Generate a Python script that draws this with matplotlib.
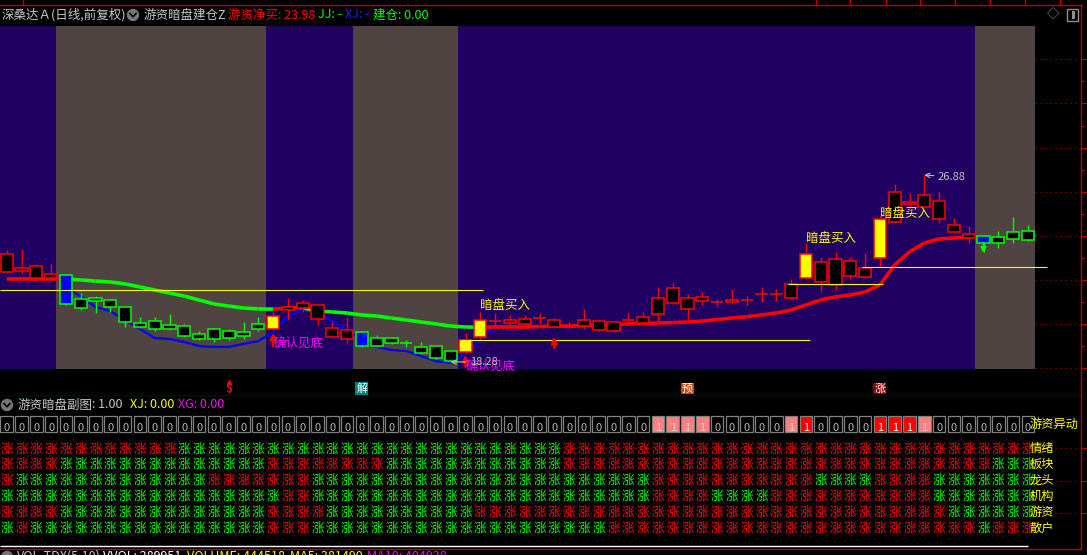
import numpy as np
import matplotlib
matplotlib.use("Agg")
import matplotlib.pyplot as plt
from matplotlib.collections import LineCollection
from matplotlib.patches import Rectangle, Ellipse
from matplotlib.lines import Line2D

plt.rcParams['font.family'] = ['Noto Sans CJK SC', 'DejaVu Sans']

W, H = 1087, 555
NAN = np.nan

# ------------------------------------------------------------------ data
opens = [22.42, 22.46, 22.14, 22.14, 22.28, 21.18, 21.22, 21.13, 20.81, 20.07,
         20.16, 19.98, 19.93, 19.57, 19.80, 19.70, 19.66, 20.03, 19.80, 20.67,
         20.76, 20.26, 19.43, 19.34, 19.66, 19.38, 19.38, 19.17, 18.97, 19.01,
         18.78, 18.74, 19.43, 20.15, 20.07, 20.03, 20.29, 19.89, 19.89, 19.93,
         19.75, 19.70, 20.20, 20.07, 20.49, 20.99, 20.72, 21.08, 21.03, 21.04,
         21.12, 21.40, 21.40, 21.22, 22.14, 21.96, 21.82, 22.23, 22.19, 23.06,
         24.72, 25.55, 25.41, 24.86, 24.26, 23.98, 24.07, 24.03, 24.26, 24.30]
highs = [23.43, 23.48, 22.79, 22.79, 22.33, 21.45, 21.31, 21.18, 20.85, 20.35,
         20.35, 20.49, 20.03, 19.70, 19.82, 19.80, 20.12, 20.35, 20.67, 21.22,
         21.13, 20.95, 20.12, 20.35, 19.70, 19.52, 19.43, 19.29, 19.20, 19.03,
         18.83, 19.61, 20.58, 20.53, 20.44, 20.44, 20.53, 20.30, 20.12, 20.71,
         20.21, 20.16, 20.53, 20.58, 21.73, 21.91, 21.41, 21.50, 21.18, 21.64,
         21.31, 21.73, 21.64, 22.09, 23.75, 23.11, 23.34, 23.11, 23.29, 25.00,
         26.47, 26.05, 26.88, 26.10, 24.90, 24.53, 24.12, 24.30, 24.95, 24.58]
lows = [22.37, 22.37, 22.09, 22.09, 20.90, 20.67, 20.53, 20.58, 19.89, 19.84,
        19.70, 19.75, 19.43, 19.29, 19.20, 19.29, 19.34, 19.70, 19.75, 20.21,
        20.58, 19.98, 19.38, 19.15, 18.97, 18.97, 19.11, 18.97, 18.65, 18.42,
        18.28, 18.69, 19.29, 19.93, 19.93, 19.93, 20.07, 19.84, 19.84, 19.80,
        19.70, 19.66, 19.98, 19.98, 20.07, 20.95, 20.26, 20.90, 20.81, 20.99,
        20.90, 21.04, 21.08, 21.18, 22.09, 21.50, 21.59, 22.09, 22.14, 22.65,
        24.67, 25.36, 25.36, 24.67, 24.21, 23.75, 23.34, 23.52, 23.75, 23.84]
closes = [23.25, 22.60, 22.69, 22.33, 20.95, 20.76, 21.08, 20.81, 20.12, 19.89,
          19.80, 19.80, 19.47, 19.34, 19.34, 19.38, 19.47, 19.80, 20.39, 20.81,
          20.99, 20.90, 19.84, 19.75, 19.01, 19.01, 19.15, 19.13, 18.69, 18.46,
          18.32, 19.29, 20.21, 20.17, 20.21, 20.26, 20.31, 20.21, 19.93, 20.21,
          20.16, 20.12, 20.22, 20.35, 21.22, 21.68, 21.22, 21.27, 21.05, 21.13,
          21.14, 21.42, 21.42, 21.86, 23.25, 22.88, 23.02, 22.92, 22.60, 24.86,
          26.10, 25.64, 25.96, 25.68, 24.58, 24.17, 23.75, 23.75, 23.94, 23.89]

yellow_candles = [18, 31, 32, 54, 59]
blue_candles = [4, 24, 66]

trend_line = [22.10, 22.10, 22.10, 22.10, 22.10, 22.05, 22.00, 21.96, 21.87, 21.73,
              21.59, 21.45, 21.31, 21.13, 20.95, 20.85, 20.76, 20.72, 20.71, 20.76,
              20.77, 20.62, 20.58, 20.53, 20.44, 20.39, 20.30, 20.21, 20.12, 20.03,
              19.93, 19.89, 19.87, 19.89, 19.89, 19.89, 19.91, 19.93, 19.93, 19.95,
              19.98, 20.00, 20.03, 20.05, 20.07, 20.09, 20.12, 20.16, 20.23, 20.30,
              20.36, 20.44, 20.53, 20.67, 20.90, 21.13, 21.27, 21.36, 21.50, 21.82,
              22.74, 23.34, 23.75, 23.94, 23.98, 24.03, NAN, NAN, NAN, NAN]

blue_start = 4
blue_line = [21.68, 21.31, 20.81, 20.62, 20.21, 19.80, 19.38, 19.34, 19.20, 19.01,
             18.97, 18.97, 19.11, 19.24, 19.66, 20.40, 20.70, 20.53, 20.16, 19.75,
             19.29, 18.97, 18.83, 18.78, 18.55, 18.32, 18.23, 18.65, 19.24, 19.89]

level_values = [21.59, 19.29, 21.86, 22.65]
level_from = [-0.45, 30.6, 52.8, 57.8]
level_to = [32.2, 54.3, 59.2, 70.3]

grid_levels = [32.20, 30.18, 28.11, 26.08, 24.06, 22.04, 20.01, 17.99]

band_from = [-0.5, 3.3, 17.5, 23.4, 30.5, 65.4]
band_to = [3.3, 17.5, 23.4, 30.5, 65.4, 69.5]
band_kind = ['P', 'G', 'P', 'G', 'P', 'G']
band_low, band_high = 17.96, 33.73

up_arrow_idx = [18, 31, 37]
up_arrow_tip = [19.61, 18.60, 19.43]
up_arrow_tail = [19.01, 18.05, 18.92]
down_arrow_idx = [66]
down_arrow_top = [23.75]
down_arrow_tip = [23.29]

confirm_idx = [18, 31]
confirm_y = [19.15, 18.09]
buy_idx = [32, 54, 59]
buy_y = [20.90, 23.98, 25.09]

low_idx, low_val = 30, 18.28
high_idx, high_val = 62, 26.88

strip_idx = [15, 24, 46, 59]
strip_text = ['$', '解', '预', '涨']
strip_y = 17.06

yidong = [0] * 44 + [1, 1, 1, 1] + [0] * 5 + [1, 1] + [0] * 4 + [1, 1, 1, 1] + [0] * 7
yidong_strong = [0] * 54 + [1] + [0] * 4 + [1, 1, 1] + [0] * 8

row_names = ['情绪', '板块', '龙头', '机构', '游资', '散户']
row_qingxu = 'R' * 12 + 'G' * 26 + 'R' * 32
row_bankuai = 'R' * 4 + 'G' * 14 + 'R' * 8 + 'G' * 12 + 'R' * 29 + 'G' * 3
row_longtou = 'R' + 'G' * 13 + 'R' * 7 + 'G' * 23 + 'R' * 11 + 'G' * 4 + 'R' * 4 + 'G' * 7
row_jigou = 'G' * 19 + 'R' * 2 + 'G' * 23 + 'R' * 4 + 'G' * 4 + 'R' * 11 + 'G' * 7
row_youzi = 'R' * 4 + 'G' * 14 + 'R' * 4 + 'G' * 10 + 'R' * 32 + 'G' * 6
row_sanhu = 'G' + 'R' + 'G' * 16 + 'R' * 3 + 'G' * 20 + 'R' * 25 + 'G' + 'R' * 3
signal_rows = [row_qingxu, row_bankuai, row_longtou, row_jigou, row_youzi, row_sanhu]

# ------------------------------------------------------------------ style
RED = '#ff0000'
GREEN = '#00ff00'
BORDER = '#c00000'
PURPLE = '#200060'
GRAY = '#4f4442'
YELLOW = '#ffff00'
MAGENTA = '#ff00ff'
TXT_GRAY = '#c0c0c0'

SLOT = 14.8       # px per bar
FIRST = 6.7       # px centre of first bar


def px_to_idx(px):
    return (px - FIRST) / SLOT


def fx(px):
    return px / W


def fy(py):
    return 1 - py / H


X_LEFT = px_to_idx(0)
X_RIGHT = px_to_idx(1081)

fig = plt.figure(figsize=(W / 100, H / 100), dpi=100, facecolor='black')

# ------------------------------------------------------------------ main panel
ax = fig.add_axes([0, fy(396), 1081 / W, 391 / H])
ax.set_facecolor('black')
ax.set_xlim(X_LEFT, X_RIGHT)
ax.set_ylim(16.714, 34.70)
ax.set_xticks([])
ax.yaxis.tick_right()
ax.set_yticks(grid_levels)
ax.set_yticks([(a + b) / 2 for a, b in zip(grid_levels[:-1], grid_levels[1:])], minor=True)
ax.tick_params(axis='y', which='major', length=4.5, width=0.8, color=BORDER,
               labelright=False, labelleft=False, direction='out')
ax.tick_params(axis='y', which='minor', length=2, width=0.8, color=BORDER,
               labelright=False, labelleft=False, direction='out')
ax.spines['left'].set_visible(False)
for s in ['top', 'bottom', 'right']:
    ax.spines[s].set_color(BORDER)
    ax.spines[s].set_linewidth(1.0)

# grid (dotted)
ax.hlines(grid_levels, X_LEFT, px_to_idx(1078), colors='#b00000',
          linestyles=(0, (1, 3.5)), lw=0.8, zorder=0.2)

# background bands
for s, e, k in zip(band_from, band_to, band_kind):
    ax.fill_between([s, e], band_low, band_high, color=PURPLE if k == 'P' else GRAY,
                    lw=0, zorder=0.5)

# trend line coloured by direction
tl = np.array(trend_line)
xs = np.arange(len(tl))
segs, cols = [], []
for i in range(len(tl) - 1):
    if np.isnan(tl[i]) or np.isnan(tl[i + 1]):
        continue
    segs.append([(xs[i], tl[i]), (xs[i + 1], tl[i + 1])])
    cols.append(RED if tl[i + 1] >= tl[i] else GREEN)
ax.add_collection(LineCollection(segs, colors=cols, linewidths=2.6, zorder=1.5,
                                 capstyle='butt'))

# blue support line
bx = np.arange(blue_start, blue_start + len(blue_line))
ax.plot(bx, blue_line, color='#0000ff', lw=1.6, zorder=1.4)

# candles
for i, (o, h, l, c) in enumerate(zip(opens, highs, lows, closes)):
    up = c >= o
    edge = RED if up else GREEN
    face = 'black'
    if i in yellow_candles:
        face = YELLOW
    elif i in blue_candles:
        face = '#0000ff'
    ax.vlines(i, l, h, color=edge, lw=1.0, zorder=2)
    ax.add_patch(Rectangle((i - 0.41, min(o, c)), 0.82, abs(c - o), facecolor=face,
                           edgecolor=edge, lw=1.1, zorder=3))

# horizontal levels
for v, a, b in zip(level_values, level_from, level_to):
    ax.hlines(v, a, b, colors=YELLOW, lw=0.8, zorder=4)

# arrows
for i, t, b in zip(up_arrow_idx, up_arrow_tip, up_arrow_tail):
    ax.annotate('', xy=(i, t), xytext=(i, b), zorder=5,
                arrowprops=dict(arrowstyle='-|>', color=RED, lw=1.6,
                                mutation_scale=9, shrinkA=0, shrinkB=0))
for i, t, b in zip(down_arrow_idx, down_arrow_top, down_arrow_tip):
    ax.annotate('', xy=(i, b), xytext=(i, t), zorder=5,
                arrowprops=dict(arrowstyle='-|>', color=GREEN, lw=1.2,
                                mutation_scale=8, shrinkA=0, shrinkB=0))

# labels
for i, y in zip(confirm_idx, confirm_y):
    ax.text(i, y, '确认见底', color=MAGENTA, fontsize=9, ha='left', va='center', zorder=6)
for i, y in zip(buy_idx, buy_y):
    ax.text(i, y, '暗盘买入', color=YELLOW, fontsize=9, ha='left', va='center', zorder=6)

ax.annotate(f'{low_val:.2f}', xy=(low_idx, low_val), xytext=(px_to_idx(470), low_val),
            color=TXT_GRAY, fontsize=8, ha='left', va='center', zorder=6,
            arrowprops=dict(arrowstyle='->', color=TXT_GRAY, lw=0.8, shrinkA=1, shrinkB=0))
ax.annotate(f'{high_val:.2f}', xy=(high_idx, high_val), xytext=(px_to_idx(938), high_val - 0.09),
            color=TXT_GRAY, fontsize=8, ha='left', va='center', zorder=6,
            arrowprops=dict(arrowstyle='->', color=TXT_GRAY, lw=0.8, shrinkA=1, shrinkB=0))

# strip markers under the price panel
ax.plot([strip_idx[0]], [strip_y + 0.32], marker='^', color=RED, ms=3, zorder=6)
ax.text(strip_idx[0], strip_y, strip_text[0], color=RED, fontsize=8.5, ha='center',
        va='center', fontweight='bold', zorder=6)
for i, t, bg in zip(strip_idx[1:], strip_text[1:], ['#008080', '#c04a10', '#8a0000']):
    ax.text(i, strip_y, t, color='white', fontsize=8, ha='center', va='center', zorder=6,
            bbox=dict(boxstyle='square,pad=0.08', fc=bg, ec='none'))

# ------------------------------------------------------------------ sub panel
ax2 = fig.add_axes([0, fy(549), 1081 / W, 153 / H])
ax2.set_facecolor('black')
ax2.set_xlim(X_LEFT, X_RIGHT)
ax2.set_ylim(7.329, -2.354)
ax2.set_xticks([])
ax2.yaxis.tick_right()
sub_grid = [0.937, 3.025, 5.05]
ax2.set_yticks(sub_grid)
ax2.tick_params(axis='y', length=4.5, width=0.8, color=BORDER, labelright=False,
                labelleft=False, direction='out')
ax2.spines['left'].set_visible(False)
ax2.spines['top'].set_visible(False)
for s in ['bottom', 'right']:
    ax2.spines[s].set_color(BORDER)
    ax2.spines[s].set_linewidth(1.0)
ax2.hlines(sub_grid, X_LEFT, px_to_idx(1078), colors='#b00000',
           linestyles=(0, (1, 3.5)), lw=0.8, zorder=0.2)

for i, (v, s) in enumerate(zip(yidong, yidong_strong)):
    fc = 'none'
    tc = '#b8b8b8'
    if v:
        fc = RED if s else '#ff8080'
        tc = 'white' if s else '#d0d0d0'
    ax2.add_patch(Rectangle((i - 0.43, -1.09), 0.86, 1.04, facecolor=fc,
                            edgecolor='#808080', lw=0.9, zorder=2))
    ax2.text(i, -0.36, str(v), color=tc, fontsize=8, ha='center', va='center', zorder=3)

for r, row in enumerate(signal_rows):
    for i, ch in enumerate(row):
        ax2.text(i, r + 1, '涨', color=RED if ch == 'R' else GREEN, fontsize=9.2,
                 ha='center', va='center', zorder=3)

lab_x = px_to_idx(1030)
ax2.text(lab_x, -0.55, '游资异动', color=YELLOW, fontsize=8.8, ha='left', va='center', zorder=4)
for r, name in enumerate(row_names):
    ax2.text(lab_x, r + 1, name, color=YELLOW, fontsize=8.8, ha='left', va='center', zorder=4)

ax2.hlines(7.14, X_LEFT, len(yidong) - 1, colors='white', lw=1.0, zorder=2)

# ------------------------------------------------------------------ header texts


def icon(px, py):
    fig.add_artist(Ellipse((fx(px), fy(py)), 11 / W, 11 / H, transform=fig.transFigure,
                           color='#777777'))
    fig.add_artist(Line2D([fx(px - 3), fx(px), fx(px + 3)], [fy(py - 1.5), fy(py + 1.8), fy(py - 1.5)],
                          transform=fig.transFigure, color='black', lw=1.2))


def ftext(px, py, s, color, size=9, va='center'):
    fig.text(fx(px), fy(py), s, color=color, fontsize=size, ha='left', va=va)


ftext(2, 15, '深桑达Ａ(日线,前复权)', '#c8c8c8')
icon(133, 15)
ftext(144, 15, '游资暗盘建仓Z', '#c8c8c8')
ftext(228, 15, '游资净买: 23.98', RED)
ftext(318, 15, 'JJ: -', GREEN)
ftext(345, 15, 'XJ: -', '#2020ff')
ftext(373, 15, '建仓: 0.00', GREEN)
ftext(1047, 15, '◇', '#909090', size=9)
fig.add_artist(Rectangle((fx(1067), fy(21)), 11 / W, 12 / H, transform=fig.transFigure,
                         fill=False, ec='#909090', lw=1))
fig.add_artist(Rectangle((fx(1072), fy(19)), 3 / W, 8 / H, transform=fig.transFigure,
                         fc='#909090', ec='none'))

# top tab separators
for px in [23, 816, 850, 886, 920, 955, 990, 1025, 1060]:
    fig.add_artist(Line2D([fx(px), fx(px)], [fy(0), fy(5)], transform=fig.transFigure,
                          color=BORDER, lw=1))

icon(7, 405)
ftext(17, 405, '游资暗盘副图', '#c8c8c8')
ftext(92, 405, ': 1.00', '#c8c8c8')
ftext(130, 405, 'XJ: 0.00', YELLOW)
ftext(178, 405, 'XG: 0.00', MAGENTA)

icon(7, 557)
ftext(17, 550, 'VOL-TDX(5,10)', '#c8c8c8', va='top')
ftext(103, 550, 'VVOL: 289951', 'white', va='top')
ftext(187, 550, 'VOLUME: 444518', YELLOW, va='top')
ftext(290, 550, 'MA5: 381490', YELLOW, va='top')
ftext(367, 550, 'MA10: 404928', MAGENTA, va='top')

fig.savefig('out.png', dpi=100, facecolor='black')
